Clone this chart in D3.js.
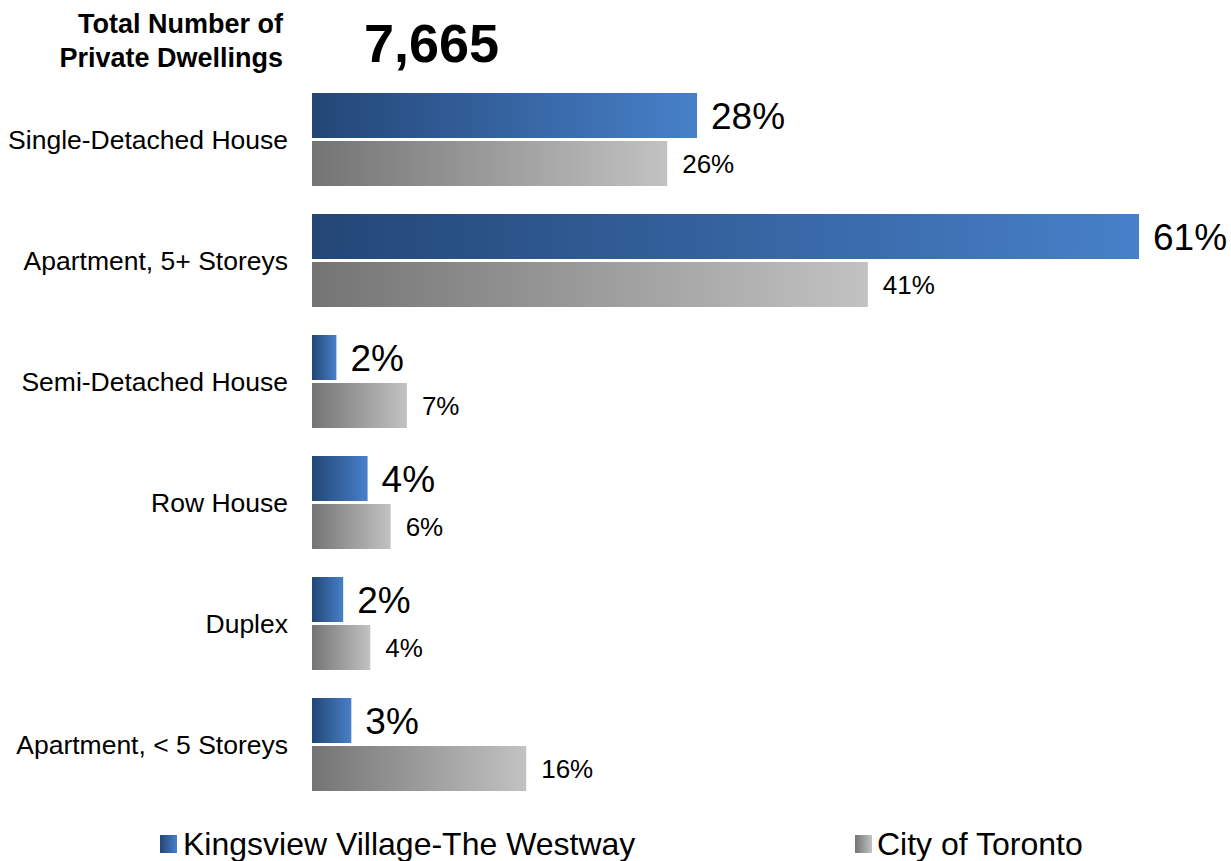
<!DOCTYPE html>
<html>
<head>
<meta charset="utf-8">
<script src="https://cdn.jsdelivr.net/npm/d3@7"></script>
<style>
  body { margin: 0; background: #fff; }
  svg text { font-family: "Liberation Sans", Arial, sans-serif; fill: #000; }
</style>
</head>
<body>
<div id="chart"></div>
<script>
// data (percent of private dwellings)
const categories = [
  "Single-Detached House",
  "Apartment, 5+ Storeys",
  "Semi-Detached House",
  "Row House",
  "Duplex",
  "Apartment, < 5 Storeys",
]
const seriesNames = ["Kingsview Village-The Westway", "City of Toronto"]
const kingsview = [28.4, 61, 1.8, 4.1, 2.3, 2.9]
const toronto = [26.2, 41, 7, 5.8, 4.3, 15.8]
const labelsK = ["28%", "61%", "2%", "4%", "2%", "3%"]
const labelsT = ["26%", "41%", "7%", "6%", "4%", "16%"]
const totalDwellings = 7665

const width = 1231, height = 861

let svg = d3.select("#chart").append("svg").attr("width", width).attr("height", height)

// gradients
let defs = svg.append("defs")
function grad(id, c0, c1) {
  let g = defs.append("linearGradient").attr("id", id).attr("x1", "0%").attr("x2", "100%").attr("y1", "0%").attr("y2", "0%")
  g.append("stop").attr("offset", "0%").attr("stop-color", c0)
  g.append("stop").attr("offset", "100%").attr("stop-color", c1)
}
grad("gBlue", "#234676", "#4780c9")
grad("gGrey", "#747474", "#c2c2c2")

let x = d3.scaleLinear().domain([0, 61]).range([312, 1139])
let y = d3.scaleBand().domain(categories).range([79, 805]).paddingInner(28 / 121).paddingOuter(14 / 121)
let ySub = d3.scaleBand().domain(["k", "t"]).range([0, y.bandwidth()]).paddingInner(0.0625)

let rows = categories.map((c, i) => ({
  cat: c,
  bars: [
    { key: "k", v: kingsview[i], label: labelsK[i] },
    { key: "t", v: toronto[i], label: labelsT[i] },
  ],
}))

let groups = svg.selectAll("g.row")
  .data(rows)
  .join("g")
  .attr("class", "row")
  .attr("transform", d => "translate(0," + y(d.cat) + ")")

groups.selectAll("rect")
  .data(d => d.bars)
  .join("rect")
  .attr("x", x(0))
  .attr("y", d => ySub(d.key))
  .attr("width", d => x(d.v) - x(0))
  .attr("height", ySub.bandwidth())
  .attr("fill", d => d.key == "k" ? "url(#gBlue)" : "url(#gGrey)")

groups.selectAll("text.val")
  .data(d => d.bars)
  .join("text")
  .attr("class", "val")
  .attr("x", d => x(d.v) + (d.key == "k" ? 14 : 15))
  .attr("y", d => ySub(d.key) + ySub.bandwidth() / 2)
  .attr("dy", "0.36em")
  .style("font-size", d => d.key == "k" ? "37px" : "26px")
  .text(d => d.label)

// category labels
groups.append("text")
  .attr("x", 288)
  .attr("y", y.bandwidth() / 2)
  .attr("dy", "0.35em")
  .attr("text-anchor", "end")
  .style("font-size", "26.5px")
  .text(d => d.cat)

// title
let title = svg.append("text").attr("text-anchor", "end").style("font-size", "27px").style("font-weight", "bold")
title.append("tspan").attr("x", 283).attr("y", 33).text("Total Number of")
title.append("tspan").attr("x", 283).attr("y", 67).text("Private Dwellings")

svg.append("text")
  .attr("x", 364)
  .attr("y", 62)
  .style("font-size", "54px")
  .style("font-weight", "bold")
  .text(d3.format(",")(totalDwellings))

// legend
let legendX = [160, 855]
let leg = svg.selectAll("g.legend")
  .data(seriesNames)
  .join("g")
  .attr("class", "legend")
  .attr("transform", (d, i) => "translate(" + legendX[i] + ",835)")
leg.append("rect")
  .attr("width", 17)
  .attr("height", 18)
  .attr("fill", (d, i) => i == 0 ? "url(#gBlue)" : "url(#gGrey)")
leg.append("text")
  .attr("x", (d, i) => i == 0 ? 23 : 22)
  .attr("y", 20)
  .style("font-size", "32px")
  .text(d => d)
</script>
</body>
</html>
